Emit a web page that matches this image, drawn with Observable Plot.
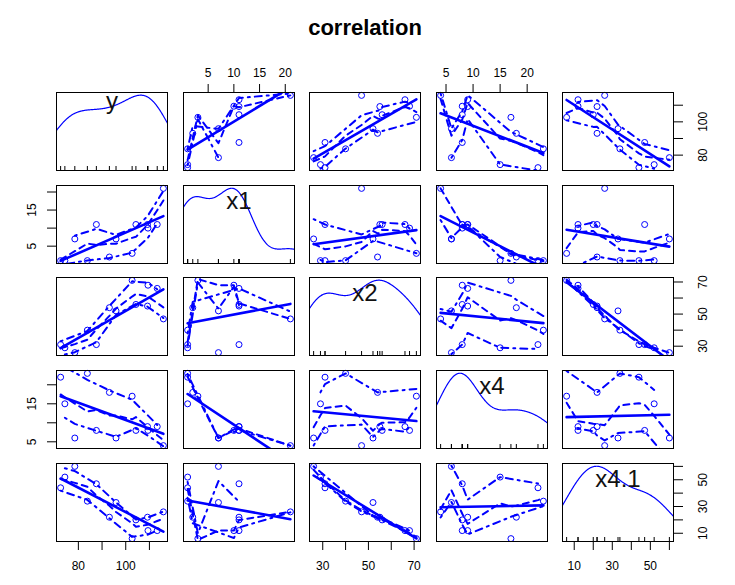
<!DOCTYPE html>
<html><head><meta charset="utf-8">
<script src="https://cdn.jsdelivr.net/npm/d3@7"></script>
<script src="https://cdn.jsdelivr.net/npm/@observablehq/plot@0.6"></script>
<style>
body{margin:0;background:#fff;color:#000;font-family:"Liberation Sans",Arial,sans-serif;}
#chart{position:relative;width:735px;height:585px;overflow:hidden;background:#fff;}
#title{position:absolute;left:0;width:730px;top:15px;text-align:center;font-weight:bold;font-size:22px;line-height:normal;}
</style></head><body>
<div id="chart"><div id="title">correlation</div></div>
<script>
// ---- data (Hald-type cement data as read from the matrix) ----
const names = ["y", "x1", "x2", "x4", "x4.1"];
const yVals   = [78.5, 74.3, 104.3, 87.6, 95.9, 109.2, 102.7, 72.5, 93.1, 115.9, 83.8, 113.3, 109.4];
const x1Vals  = [7, 1, 11, 11, 7, 11, 3, 1, 2, 21, 1, 11, 10];
const x2Vals  = [26, 29, 56, 31, 52, 55, 71, 31, 54, 47, 40, 66, 68];
const x4Vals  = [6, 15, 8, 8, 6, 9, 17, 22, 18, 4, 23, 9, 8];
const x41Vals = [60, 52, 20, 47, 33, 22, 6, 44, 22, 26, 34, 12, 12];

const yTicks   = [80, 90, 100, 110];        const yTickLabels   = [80, 100];
const x1Ticks  = [5, 10, 15, 20];           const x1TickLabelsTop = [5, 10, 15, 20]; const x1TickLabelsSide = [5, 15];
const x2Ticks  = [30, 40, 50, 60, 70];      const x2TickLabels  = [30, 50, 70];
const x4Ticks  = [5, 10, 15, 20];           const x4TickLabelsTop = [5, 10, 15, 20]; const x4TickLabelsSide = [5, 15];
const x41Ticks = [10, 20, 30, 40, 50, 60];  const x41TickLabels = [10, 30, 50];

const vars = [yVals, x1Vals, x2Vals, x4Vals, x41Vals];
const ticksOf = [yTicks, x1Ticks, x2Ticks, x4Ticks, x41Ticks];
const horizLabels = [yTickLabels, x1TickLabelsTop, x2TickLabels, x4TickLabelsTop, x41TickLabels];
const vertLabels  = [yTickLabels, x1TickLabelsSide, x2TickLabels, x4TickLabelsSide, x41TickLabels];

// ---- layout ----
const BLUE = "#0000ff";
const W = 111, H = 78, M = 40;
const colLeft = [56, 182.5, 309, 435.5, 562];
const rowTop  = [92, 184.5, 277, 370, 463];

// ---- statistics ----
function padDomain(v) {
  const [a, b] = d3.extent(v); const r = b - a;
  return [a - 0.04 * r, b + 0.04 * r];
}
function bwNrd0(v) {
  const s = [...v].sort((a, b) => a - b);
  const sd = d3.deviation(v);
  const iqr = d3.quantileSorted(s, 0.75) - d3.quantileSorted(s, 0.25);
  let lo = Math.min(sd, iqr / 1.34);
  if (!(lo > 0)) lo = sd || 1;
  return 0.9 * lo * Math.pow(v.length, -0.2);
}
function densityCurve(v) {
  const n = v.length, bw = bwNrd0(v);
  const lo = d3.min(v) - 3 * bw, hi = d3.max(v) + 3 * bw;
  const pts = d3.range(512).map(k => {
    const x = lo + (hi - lo) * k / 511;
    let s = 0;
    for (const xi of v) { const u = (x - xi) / bw; s += Math.exp(-0.5 * u * u); }
    return {x, d: s / (n * bw * Math.sqrt(2 * Math.PI))};
  });
  const [dmin, dmax] = d3.extent(pts, p => p.d);
  const [vmin, vmax] = d3.extent(v);
  return pts.map(p => ({x: p.x, y: vmin + p.d * (vmax - vmin) / (dmax - dmin)}));
}
function loess(xs, ys, span, degree, iterations) {
  const n = xs.length;
  const q = Math.max(1, Math.floor(n * span));
  let rob = new Array(n).fill(1);
  let fit = new Array(n).fill(0);
  const fitAt = (x0) => {
    const d = xs.map(x => Math.abs(x - x0));
    const sd = [...d].sort((a, b) => a - b);
    let h = sd[Math.min(q, n) - 1];
    if (q < n) h = (h + sd[q]) / 2;
    const w = d.map((di, i) => {
      if (h <= 0) return di === 0 ? rob[i] : 0;
      const u = di / h;
      return u < 1 ? Math.pow(1 - u * u * u, 3) * rob[i] : 0;
    });
    let sw = 0, sx = 0, sy = 0;
    for (let i = 0; i < n; i++) { sw += w[i]; sx += w[i] * xs[i]; sy += w[i] * ys[i]; }
    if (sw <= 0) return NaN;
    const mx = sx / sw, my = sy / sw;
    if (degree === 0) return my;
    let sxx = 0, sxy = 0;
    for (let i = 0; i < n; i++) { sxx += w[i] * (xs[i] - mx) ** 2; sxy += w[i] * (xs[i] - mx) * (ys[i] - my); }
    if (sxx <= 1e-12) return my;
    return my + sxy / sxx * (x0 - mx);
  };
  for (let it = 0; it < iterations; it++) {
    fit = xs.map(fitAt);
    if (it < iterations - 1) {
      const res = ys.map((y, i) => y - fit[i]);
      const s = d3.median(res.map(Math.abs));
      if (!(s > 0)) break;
      rob = res.map(r => { const u = r / (6 * s); return Math.abs(u) < 1 ? (1 - u * u) ** 2 : 0; });
    }
  }
  return fit;
}
function smoothLines(vx, vy) {
  const ord = d3.range(vx.length).sort((a, b) => vx[a] - vx[b]);
  const xs = ord.map(k => vx[k]), ys = ord.map(k => vy[k]);
  const fit = loess(xs, ys, 0.5, 1, 4);
  const res = ys.map((y, i) => y - fit[i]);
  const smooth = xs.map((x, i) => ({x, y: fit[i]}));
  const side = (sel, sign) => {
    const idx = d3.range(xs.length).filter(i => sel(res[i]));
    if (idx.length < 2) return [];
    const sx = idx.map(i => xs[i]), sr = idx.map(i => res[i] ** 2);
    const f = loess(sx, sr, 0.5, 0, 4);
    return idx.map((i, k) => ({x: xs[i], y: fit[i] + sign * Math.sqrt(Math.max(0, f[k]))}));
  };
  return {smooth, upper: side(r => r > 0, 1), lower: side(r => r <= 0, -1)};
}

// ---- panels ----
const chart = document.getElementById("chart");
const fmt = (labels) => (d) => labels.includes(d) ? String(d) : "";

function makePanel(i, j) {
  const vx = vars[j], vy = vars[i];
  const marks = [];
  if (i === j) {
    marks.push(Plot.line(densityCurve(vx), {x: "x", y: "y", stroke: BLUE, strokeWidth: 1.2, clip: true}));
    marks.push(Plot.tickX(vx, {x: d => d, stroke: "black", strokeWidth: 1, insetTop: H - 4}));
    marks.push(Plot.text([names[i]], {frameAnchor: "top", lineAnchor: "middle",
      dy: /[0-9]/.test(names[i]) ? 16 : 9, fontSize: 24, fill: "#111"}));
  } else {
    const pts = vx.map((v, k) => ({x: v, y: vy[k]}));
    const sm = smoothLines(vx, vy);
    const spreadStyle = {x: "x", y: "y", stroke: BLUE, strokeWidth: 2, strokeDasharray: "2,5,7,5", clip: true};
    marks.push(Plot.line(sm.upper, spreadStyle));
    marks.push(Plot.line(sm.lower, spreadStyle));
    marks.push(Plot.line(sm.smooth, {x: "x", y: "y", stroke: BLUE, strokeWidth: 2, strokeDasharray: "6,5", clip: true}));
    marks.push(Plot.linearRegressionY(pts, {x: "x", y: "y", ci: 0, stroke: BLUE, strokeWidth: 2.6, clip: true}));
    marks.push(Plot.dot(pts, {x: "x", y: "y", r: 3, stroke: BLUE, strokeWidth: 1, fill: "none"}));
  }
  // R-style alternating axes
  if (i === 0 && j % 2 === 1)
    marks.push(Plot.axisX({anchor: "top", label: null, ticks: ticksOf[j], tickFormat: fmt(horizLabels[j]), tickSize: 9, tickPadding: 7, fontSize: 12}));
  if (i === 4 && j % 2 === 0)
    marks.push(Plot.axisX({anchor: "bottom", label: null, ticks: ticksOf[j], tickFormat: fmt(horizLabels[j]), tickSize: 9, tickPadding: 11, fontSize: 12}));
  if (j === 0 && i % 2 === 1)
    marks.push(Plot.axisY({anchor: "left", label: null, ticks: ticksOf[i], tickFormat: fmt(vertLabels[i]), tickSize: 9, tickPadding: 12,
      tickRotate: -90, textAnchor: "middle", lineAnchor: "bottom", fontSize: 12}));
  if (j === 4 && i % 2 === 0)
    marks.push(Plot.axisY({anchor: "right", label: null, ticks: ticksOf[i], tickFormat: fmt(vertLabels[i]), tickSize: 9, tickPadding: 16,
      tickRotate: -90, textAnchor: "middle", lineAnchor: "top", fontSize: 12}));
  marks.push(Plot.frame({stroke: "black", strokeWidth: 1}));

  const svg = Plot.plot({
    width: W + 2 * M, height: H + 2 * M, margin: M,
    x: {domain: padDomain(vx), axis: null, label: null},
    y: {domain: padDomain(vy), axis: null, label: null},
    style: {background: "transparent", overflow: "visible", fontFamily: "'Liberation Sans', Arial, sans-serif", color: "black"},
    marks
  });
  svg.style.position = "absolute";
  svg.style.left = (colLeft[j] - M) + "px";
  svg.style.top = (rowTop[i] - M) + "px";
  svg.style.maxWidth = "none";
  chart.appendChild(svg);
}
for (let i = 0; i < 5; i++) for (let j = 0; j < 5; j++) makePanel(i, j);
</script>
</body></html>
